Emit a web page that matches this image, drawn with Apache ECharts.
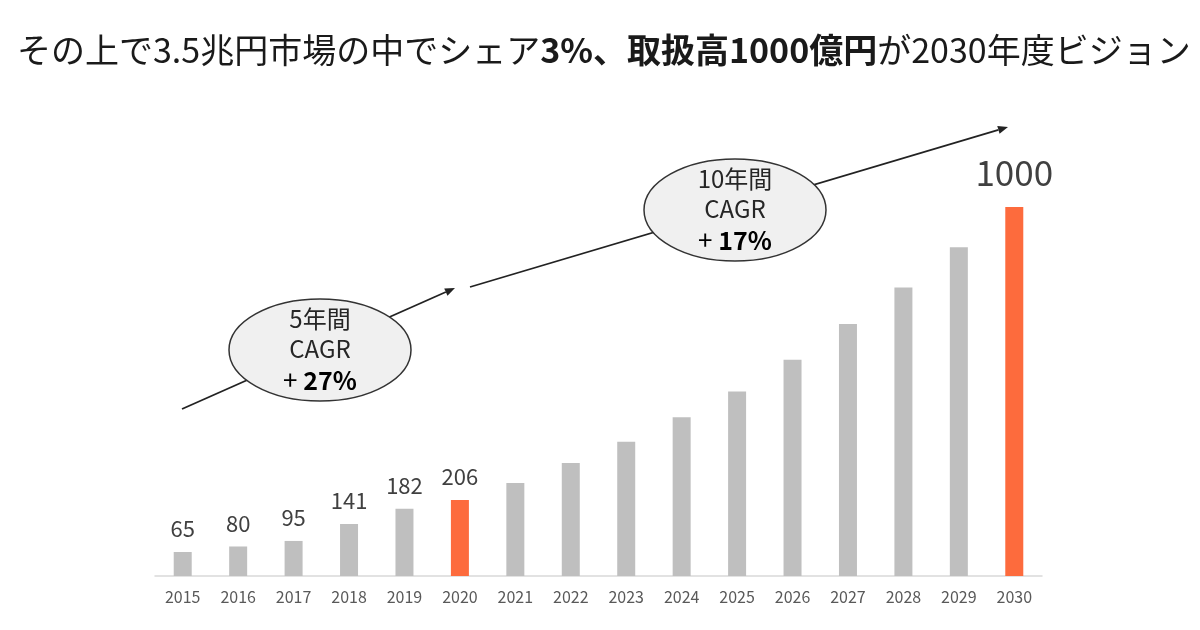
<!DOCTYPE html>
<html>
<head>
<meta charset="utf-8">
<script src="https://cdn.jsdelivr.net/npm/echarts@6/dist/echarts.min.js"></script>
<style>
html,body{margin:0;padding:0;background:#fff;}
#chart{width:1200px;height:630px;}
</style>
</head>
<body>
<div id="chart"></div>
<script>
// ---- data ----
const years = ['2015','2016','2017','2018','2019','2020','2021','2022','2023','2024','2025','2026','2027','2028','2029','2030'];
const values = [65, 80, 95, 141, 182, 206, 252, 306, 364, 430, 500, 586, 683, 782, 891, 1000];
const labeledYears = ['2015','2016','2017','2018','2019','2020','2030'];
const highlightYears = ['2020','2030'];
const bigLabelYears = ['2030'];
const titleParts = ['その上で3.5兆円市場の中でシェア', '3%、取扱高1000億円', 'が2030年度ビジョン'];
const bubble1 = ['5年間', 'CAGR', '+ ', '27%'];
const bubble2 = ['10年間', 'CAGR', '+ ', '17%'];

const FONT = '"Noto Sans CJK JP", "Noto Sans", sans-serif';
const chart = echarts.init(document.getElementById('chart'));

const seriesData = years.map((y, i) => {
  const hi = highlightYears.includes(y);
  const big = bigLabelYears.includes(y);
  return {
    value: values[i],
    itemStyle: { color: hi ? '#fd6b3d' : '#bfbfbf' },
    label: {
      show: labeledYears.includes(y),
      position: 'top',
      distance: big ? 17 : 12,
      fontSize: big ? 35 : 22,
      color: '#404040',
      fontFamily: FONT
    }
  };
});

function arrowLine(x1, y1, x2, y2) {
  const ang = Math.atan2(y2 - y1, x2 - x1);
  const len = 10, half = 4;
  const bx = x2 - len * Math.cos(ang), by = y2 - len * Math.sin(ang);
  const px = -Math.sin(ang) * half, py = Math.cos(ang) * half;
  return [
    { type: 'line', z: 10, shape: { x1, y1, x2: bx, y2: by }, style: { stroke: '#222', lineWidth: 1.8 } },
    { type: 'polygon', z: 10, shape: { points: [[x2, y2], [bx + px, by + py], [bx - px, by - py]] }, style: { fill: '#222' } }
  ];
}

function bubble(cx, cy, lines) {
  return [
    { type: 'ellipse', z: 20, shape: { cx, cy, rx: 91, ry: 51 }, style: { fill: '#f0f0f0', stroke: '#333', lineWidth: 1.5 } },
    { type: 'text', z: 21, x: cx, y: cy - 31, style: { text: lines[0], font: '24px ' + FONT, fill: '#262626', align: 'center', verticalAlign: 'middle' } },
    { type: 'text', z: 21, x: cx, y: cy - 1, style: { text: lines[1], font: '24px ' + FONT, fill: '#262626', align: 'center', verticalAlign: 'middle' } },
    { type: 'text', z: 21, x: cx, y: cy + 30, style: {
      text: '{n|' + lines[2] + '}{b|' + lines[3] + '}', align: 'center', verticalAlign: 'middle',
      rich: {
        n: { fontSize: 26, fontFamily: FONT, fontWeight: 'normal', color: '#262626' },
        b: { fontSize: 25, fontFamily: FONT, fontWeight: 'bold', color: '#1a1a1a' }
      }
    } }
  ];
}

const graphics = []
  .concat(arrowLine(182, 409, 455, 288))
  .concat(arrowLine(470, 287, 1008, 127))
  .concat(bubble(320, 350, bubble1))
  .concat(bubble(735, 210, bubble2));

chart.setOption({
  backgroundColor: '#fff',
  animation: false,
  title: {
    left: 12,
    top: 28,
    text: '{n|' + titleParts[0] + '}{b|' + titleParts[1] + '}{n|' + titleParts[2] + '}',
    textStyle: {
      fontWeight: 'normal',
      rich: {
        n: { fontSize: 34, fontFamily: FONT, fontWeight: 'normal', color: '#1a1a1a' },
        b: { fontSize: 34, fontFamily: FONT, fontWeight: 'bold', color: '#1a1a1a' }
      }
    }
  },
  grid: { left: 155, right: 158, top: 207, bottom: 54, containLabel: false },
  xAxis: {
    type: 'category',
    data: years,
    boundaryGap: true,
    axisLine: { lineStyle: { color: '#d9d9d9', width: 1.5 } },
    axisTick: { show: false },
    axisLabel: { fontSize: 16, color: '#595959', fontFamily: FONT, margin: 13 }
  },
  yAxis: {
    type: 'value',
    min: 0,
    max: 1000,
    show: false,
    splitLine: { show: false }
  },
  series: [{
    type: 'bar',
    data: seriesData,
    barWidth: 18
  }],
  graphic: graphics
});
</script>
</body>
</html>
